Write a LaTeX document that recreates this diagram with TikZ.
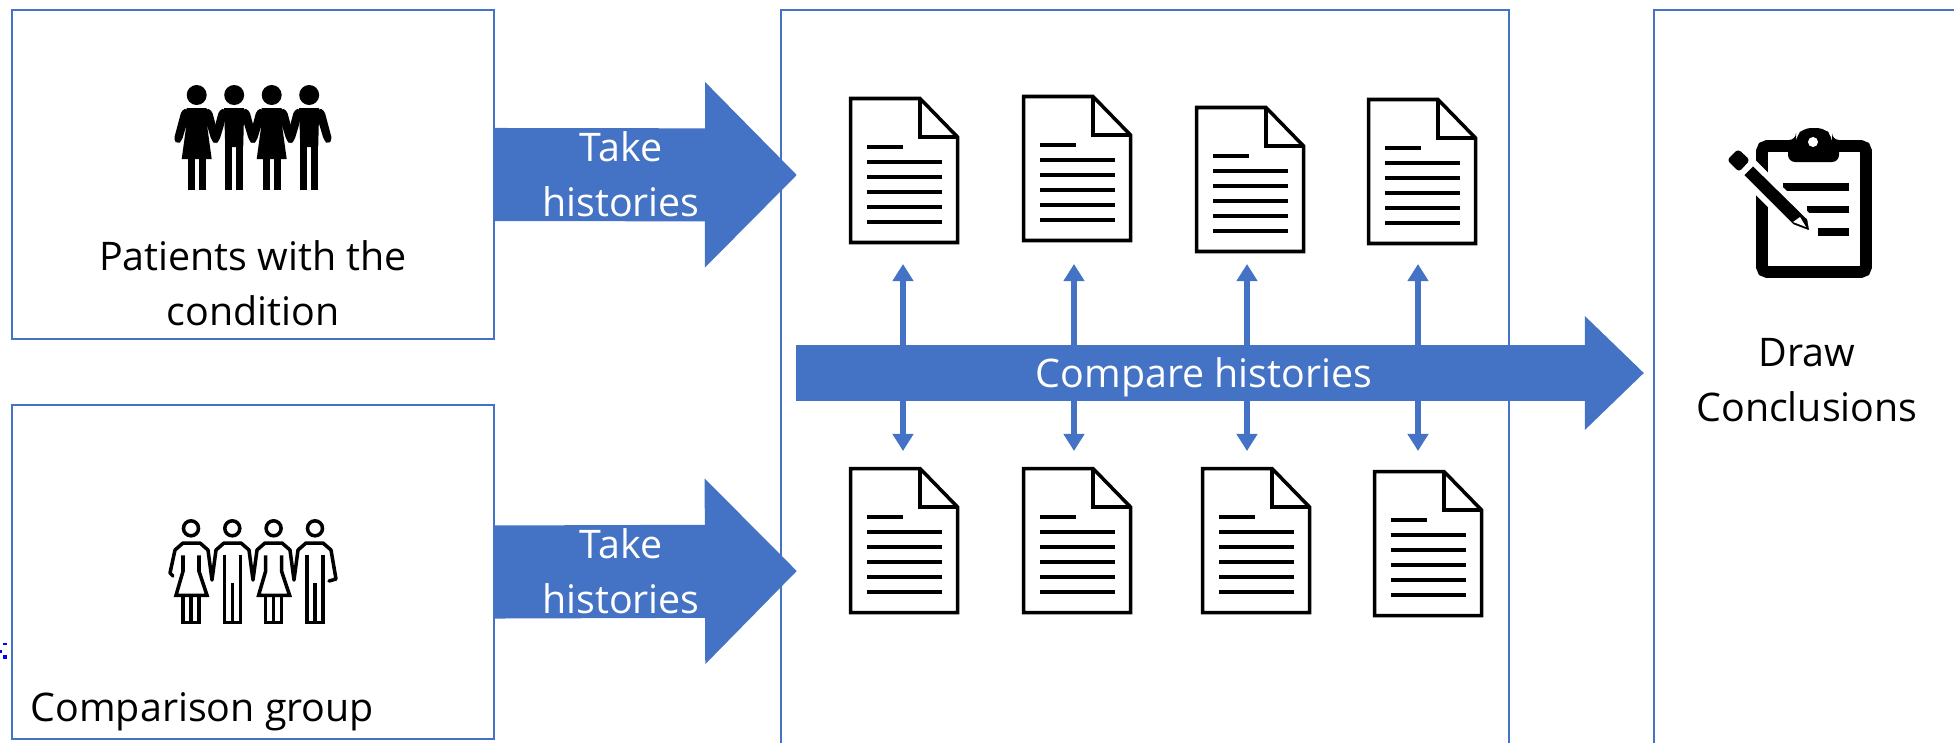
\documentclass[tikz,border=0pt]{standalone}
\usepackage{fontspec}
\setmainfont{Open Sans}
\usetikzlibrary{arrows.meta}
\definecolor{panelblue}{HTML}{4472C4}
\tikzset{
  panel/.style={draw=panelblue,line width=0.5pt,inner sep=0pt,outer sep=0pt},
  darklabel/.style={font=\fontsize{11.2}{15.6}\selectfont,align=center,inner sep=0pt},
  whitelabel/.style={darklabel,text=white},
  bigarrow/.style={panelblue,line width=0.93cm,-{Triangle[length=0.92cm,width=1.8cm]}},
  widearrow/.style={panelblue,line width=0.56cm,-{Triangle[length=0.59cm,width=1.1cm]}},
  linkarrow/.style={panelblue,line width=0.065cm,{Triangle[length=0.17cm,width=0.2cm]}-{Triangle[length=0.17cm,width=0.2cm]}},
  stroke/.style={line width=1pt},
  docicon/.pic={
    \draw[stroke,fill=white] (1.5,1.5) -- (71,1.5) -- (108.5,40) -- (108.5,145.5) -- (1.5,145.5) -- cycle;
    \draw[stroke] (71,1.5) -- (71,40) -- (108.5,40);
    \draw[stroke] (18,50) -- (54,50);
    \foreach \y in {65,80,95,110,125}{
      \draw[stroke] (18,\y) -- (93,\y);
    }
  },
  solidcommon/.pic={
    \fill (0,0) circle (10);
    \foreach \s in {-1,1}{
      \fill[rounded corners=1pt] (\s*9,13) -- (\s*15,15) -- (\s*23,45) -- (\s*19,49) -- (\s*15,46) -- (\s*9,26) -- cycle;
      \fill (\s*9,40) rectangle (\s*2,95);
    }
  },
  solidwoman/.pic={
    \pic {solidcommon};
    \fill (-10,13) -- (10,13) -- (11,35) -- (15,64) -- (-15,64) -- (-11,35) -- cycle;
  },
  solidman/.pic={
    \pic {solidcommon};
    \fill (-10,13) -- (10,13) -- (9,52) -- (-9,52) -- cycle;
  },
  linehead/.pic={
    \draw[stroke] (0,0) circle (7.5);
  },
  linewoman/.pic={
    \pic {linehead};
    \draw[stroke] (-8,27) -- (-8,43) -- (-15,67) -- (16,67) -- (8,43) -- (8,27);
    \draw[stroke] (-8,67) -- (-8,94) -- (8,94) -- (8,67);
    \draw[stroke] (0,67) -- (0,94);
  },
  lineman/.pic={
    \pic {linehead};
    \draw[stroke] (-8,27) -- (-8,94) -- (8,94) -- (8,27);
    \draw[stroke] (0,55) -- (0,94);
  },
}
\begin{document}
\begin{tikzpicture}[x=0.01cm,y=-0.01cm]
\clip (0,0) rectangle (1954,742);
\node[panel,minimum width=4.82cm,minimum height=3.29cm] (patients) at (253,174.5) {};
\node[panel,minimum width=4.82cm,minimum height=3.34cm] (comparison) at (253,572) {};
\node[panel,minimum width=7.28cm,minimum height=7.8cm] (records) at (1145,400) {};
\node[panel,minimum width=4.5cm,minimum height=7.8cm] (results) at (1879,400) {};
% top and bottom ends of the links
\foreach \n/\x in {1/903,2/1074,3/1247,4/1418}{
  \coordinate (up\n) at (\x,264);
  \coordinate (dn\n) at (\x,451);
  \draw[linkarrow] (up\n) -- (dn\n);
}
\coordinate (tipa) at (797,175);
\coordinate (tipb) at (797,571);
\coordinate (tailc) at (796,373);
\coordinate (tipc) at (1644,373);
\draw[bigarrow] (patients.east) -- (tipa);
\draw[bigarrow] (comparison.east) -- (tipb);
\draw[widearrow] (tailc) -- (tipc);
\node[whitelabel] (takea) at (621,174) {Take\\histories};
\node[whitelabel] (takeb) at (621,571) {Take\\histories};
\node[whitelabel] (compare) at (1204,377) {Compare histories};
\node[darklabel] (patientstext) at (253,283) {Patients with the\\condition};
\node[darklabel,anchor=west] (comparisontext) at (30,712) {Comparison group};
\node[darklabel] (drawtext) at (1807,380) {Draw\\Conclusions};
% documents
\foreach \n/\x/\y in {1/849/97,2/1022/95,3/1195/106,4/1367/98,5/849/467,6/1022/467,7/1201/467,8/1373/470}{
  \pic (doc\n) at (\x,\y) {docicon};
}
% people
\pic at (196.7,95) {solidwoman};
\pic at (234.2,95) {solidman};
\pic at (271.7,95) {solidwoman};
\pic at (309.2,95) {solidman};
\pic at (191,528.3) {linewoman};
\pic at (232.3,528.3) {lineman};
\pic at (273.6,528.3) {linewoman};
\pic at (315,528.3) {lineman};
\draw[stroke,line join=round,line cap=round] (173,576) -- (170,573) -- (175,550) -- (183,543) -- (200,543) -- (208,550) -- (212,580) -- (216,550) -- (224,543) -- (241,543) -- (249,550) -- (253,580) -- (257,550) -- (265,543) -- (282,543) -- (290,550) -- (294,580) -- (298,550) -- (306,543) -- (323,543) -- (331,550) -- (336,579) -- (329,581);
% clipboard
\draw[line width=3.4pt,rounded corners=1.5pt] (1762,146) rectangle (1866,272);
\fill[rounded corners=2pt] (1788,162) -- (1788,140) -- (1796,140) -- (1796,136) -- (1804,128) -- (1824,128) -- (1832,136) -- (1832,140) -- (1839,140) -- (1839,162) -- cycle;
\fill[white] (1813,142) circle (5);
\fill (1783,183) rectangle (1849,191);
\fill (1807,206) rectangle (1849,213);
\fill (1818,228) rectangle (1849,236);
\filldraw[draw=white,line width=1.7pt,line join=round] (1740,175) -- (1753,162) -- (1810,218) -- (1813,235) -- (1792,227) -- cycle;
\fill[white,line join=round] (1793,222) -- (1800,217) -- (1806,227) -- cycle;
\fill[rounded corners=1pt] (1727,160) -- (1738,149) -- (1750,160) -- (1739,172) -- cycle;
% stray marks at the edge
\fill[blue] (3,643) rectangle (7,645);
\fill[blue] (3,655) rectangle (7,659);
\fill[blue] (0,650) rectangle (2,653);
\end{tikzpicture}
\end{document}
